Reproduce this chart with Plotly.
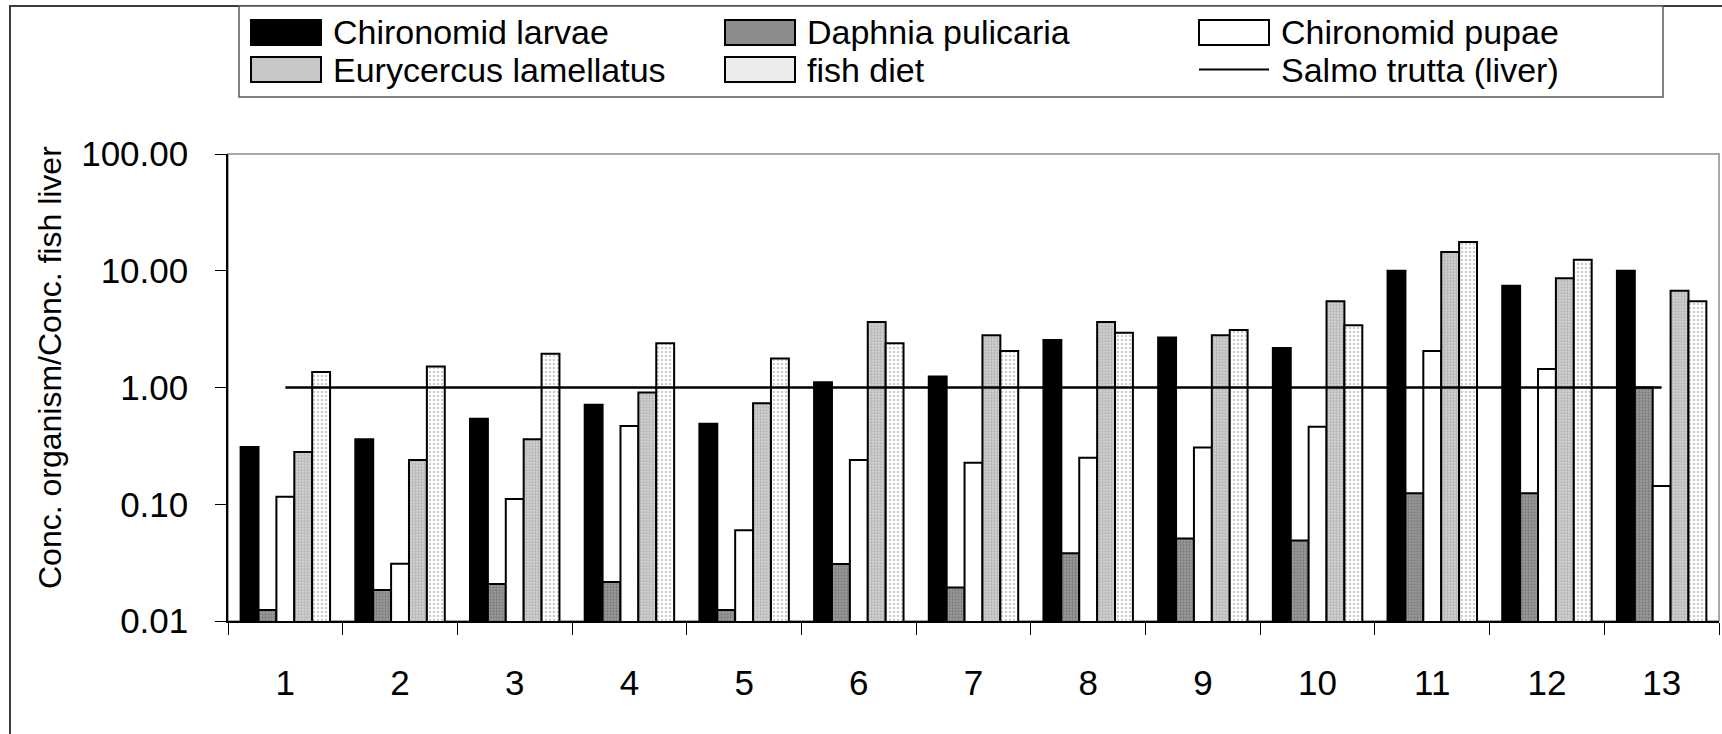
import plotly.graph_objects as go

# ---- data -------------------------------------------------------------
categories = ["1", "2", "3", "4", "5", "6", "7", "8", "9", "10", "11", "12", "13"]

chironomid_larvae = [0.31, 0.36, 0.54, 0.71, 0.49, 1.11, 1.24, 2.55, 2.68, 2.18, 10.0, 7.45, 10.0]
daphnia_pulicaria = [0.0124, 0.0184, 0.0207, 0.0216, 0.0124, 0.0308, 0.0194, 0.038, 0.051, 0.049, 0.124, 0.124, 1.0]
chironomid_pupae = [0.116, 0.031, 0.111, 0.468, 0.060, 0.239, 0.227, 0.25, 0.307, 0.461, 2.05, 1.44, 0.143]
eurycercus_lamellatus = [0.28, 0.239, 0.36, 0.904, 0.733, 3.64, 2.80, 3.64, 2.80, 5.47, 14.5, 8.61, 6.75]
fish_diet = [1.36, 1.51, 1.95, 2.39, 1.77, 2.39, 2.05, 2.95, 3.11, 3.41, 17.6, 12.4, 5.47]
salmo_trutta_liver = [1.0, 1.0, 1.0, 1.0, 1.0, 1.0, 1.0, 1.0, 1.0, 1.0, 1.0, 1.0, 1.0]

ytick_vals = [0.01, 0.1, 1, 10, 100]
ytick_text = ["0.01", "0.10", "1.00", "10.00", "100.00"]

y_title = "Conc. organism/Conc. fish liver"

# ---- page geometry (pixels) ---------------------------------------------
W, H = 1722, 734
PL, PR, PT, PB = 228, 1719, 154, 621


def px_x(x):
    return (x - PL) / (PR - PL)


def px_y(y):
    return (PB - y) / (PB - PT)


FONT = "Liberation Sans"

# bar styles: (name, values, fill, pattern)
series = [
    ("Chironomid larvae", chironomid_larvae, "black", None),
    ("Daphnia pulicaria", daphnia_pulicaria, "#8c8c8c",
     dict(shape=".", bgcolor="#9c9c9c", fgcolor="#5a5a5a", size=3, solidity=0.45)),
    ("Chironomid pupae", chironomid_pupae, "white", None),
    ("Eurycercus lamellatus", eurycercus_lamellatus, "#c6c6c6",
     dict(shape=".", bgcolor="#d2d2d2", fgcolor="#969696", size=3, solidity=0.45)),
    ("fish diet", fish_diet, "#f4f4f4",
     dict(shape=".", bgcolor="white", fgcolor="#9a9a9a", size=4, solidity=0.3)),
]

fig = go.Figure()

for name, vals, fill, pat in series:
    marker = dict(color=fill, line=dict(color="black", width=2))
    if pat is not None:
        marker["pattern"] = pat
    fig.add_trace(go.Bar(name=name, x=categories, y=vals, marker=marker,
                         showlegend=False))

fig.add_trace(go.Scatter(name="Salmo trutta (liver)", x=categories, y=salmo_trutta_liver,
                         mode="lines", line=dict(color="black", width=2.5),
                         showlegend=False))

shapes = []
annotations = []

# outer frame of the chart
shapes.append(dict(type="rect", xref="paper", yref="paper",
                   x0=px_x(10), x1=px_x(1760), y0=px_y(760), y1=px_y(6),
                   line=dict(color="#3c3c3c", width=2), fillcolor="rgba(0,0,0,0)",
                   layer="below"))
# plot area border
shapes.append(dict(type="rect", xref="paper", yref="paper",
                   x0=0, x1=1, y0=0, y1=1,
                   line=dict(color="#8a8a8a", width=1.5), fillcolor="rgba(0,0,0,0)",
                   layer="below"))
# legend box
shapes.append(dict(type="rect", xref="paper", yref="paper",
                   x0=px_x(239), x1=px_x(1663), y0=px_y(97), y1=px_y(6),
                   line=dict(color="#5a5a5a", width=1.5), fillcolor="white",
                   layer="below"))

# legend entries: (label, swatch fill or None for line, column, row)
legend_items = [
    ("Chironomid larvae", "black", 0, 0),
    ("Daphnia pulicaria", "#8c8c8c", 1, 0),
    ("Chironomid pupae", "white", 2, 0),
    ("Eurycercus lamellatus", "#c8c8c8", 0, 1),
    ("fish diet", "#ececec", 1, 1),
    ("Salmo trutta (liver)", None, 2, 1),
]
col_x = [251, 725, 1199]
row_y = [32.5, 69.5]
text_y = [31.5, 70.5]
sw_w, sw_h = 70, 25

for label, fill, c, r in legend_items:
    x0 = col_x[c]
    yc = row_y[r]
    if fill is None:
        shapes.append(dict(type="line", xref="paper", yref="paper",
                           x0=px_x(x0), x1=px_x(x0 + sw_w), y0=px_y(yc), y1=px_y(yc),
                           line=dict(color="black", width=2)))
    else:
        shapes.append(dict(type="rect", xref="paper", yref="paper",
                           x0=px_x(x0), x1=px_x(x0 + sw_w),
                           y0=px_y(yc + sw_h / 2), y1=px_y(yc - sw_h / 2),
                           line=dict(color="black", width=2), fillcolor=fill))
    annotations.append(dict(xref="paper", yref="paper", x=px_x(x0 + sw_w + 11),
                            y=px_y(text_y[r]), xanchor="left", yanchor="middle",
                            text=label, showarrow=False, borderpad=0,
                            font=dict(family=FONT, size=34, color="black")))

# y axis title
annotations.append(dict(xref="paper", yref="paper", x=px_x(50), y=px_y(368),
                        xanchor="center", yanchor="middle", textangle=-90,
                        text=y_title, showarrow=False,
                        font=dict(family=FONT, size=32, color="black")))

fig.update_layout(
    width=W, height=H,
    margin=dict(l=PL, r=W - PR, t=PT, b=H - PB, pad=0),
    paper_bgcolor="white", plot_bgcolor="white",
    barmode="group", bargap=0.22, bargroupgap=0,
    font=dict(family=FONT, size=35, color="black"),
    shapes=shapes, annotations=annotations,
    showlegend=False,
)

fig.update_xaxes(
    type="category", categoryorder="array", categoryarray=categories,
    tickson="boundaries", ticks="outside", ticklen=12, tickwidth=1.2,
    tickcolor="black", showline=True, linecolor="black", linewidth=1.5,
    showgrid=False, zeroline=False, ticklabelstandoff=30,
    tickfont=dict(family=FONT, size=35, color="black"),
)
fig.update_yaxes(
    type="log", range=[-2, 2], tickvals=ytick_vals, ticktext=ytick_text,
    ticks="outside", ticklen=11, tickwidth=1.2, tickcolor="black",
    showline=True, linecolor="black", linewidth=1.5,
    showgrid=False, zeroline=False, ticklabelstandoff=20,
    tickfont=dict(family=FONT, size=35, color="black"),
)

fig.write_html("out.html")
